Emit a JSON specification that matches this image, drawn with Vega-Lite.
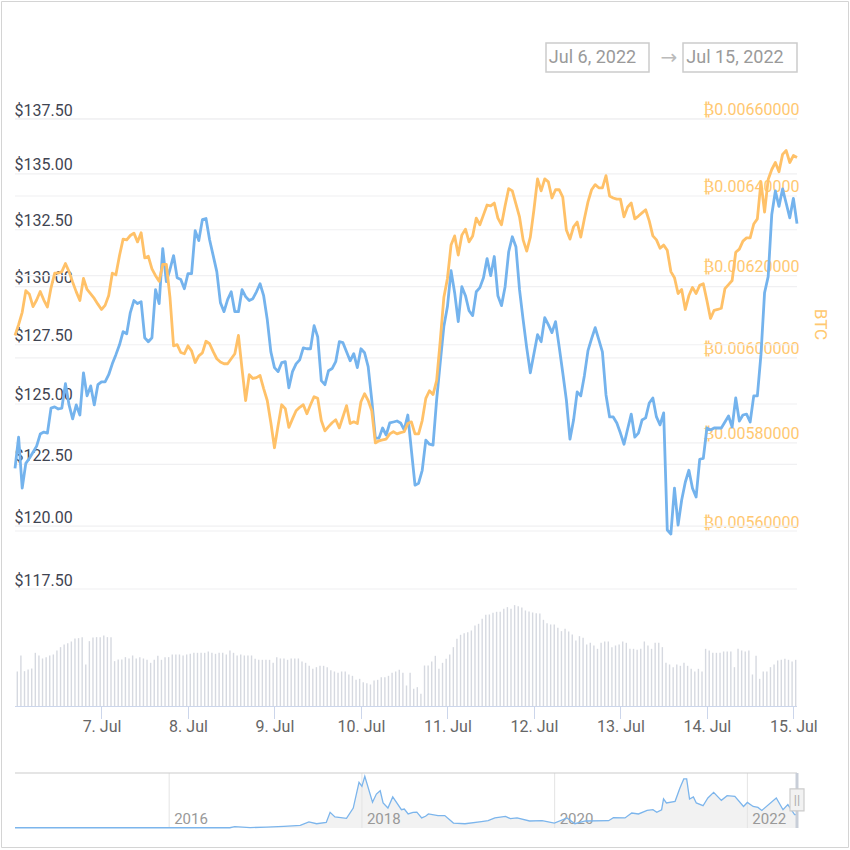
{
"$schema":"https://vega.github.io/schema/vega-lite/v6.json",
"width":847,"height":846,"padding":1,"autosize":"none","background":"white",
"view":{"stroke":"#d4d4d4"},
"config":{"font":"Roboto, DejaVu Sans"},
"datasets":{
"hourly":[
{"t":"2022-07-06T00:00Z","usd":122.34,"btc":0.006054,"vol":210},{"t":"2022-07-06T01:00Z","usd":123.62,"btc":0.00608,"vol":306},{"t":"2022-07-06T02:00Z","usd":121.53,"btc":0.00611,"vol":212},{"t":"2022-07-06T03:00Z","usd":122.54,"btc":0.006163,"vol":222},{"t":"2022-07-06T04:00Z","usd":122.75,"btc":0.006154,"vol":228},{"t":"2022-07-06T05:00Z","usd":123.0,"btc":0.006124,"vol":322},{"t":"2022-07-06T06:00Z","usd":123.25,"btc":0.00614,"vol":306},{"t":"2022-07-06T07:00Z","usd":123.75,"btc":0.006161,"vol":288},{"t":"2022-07-06T08:00Z","usd":123.83,"btc":0.00614,"vol":296},{"t":"2022-07-06T09:00Z","usd":123.79,"btc":0.006123,"vol":306},{"t":"2022-07-06T10:00Z","usd":124.83,"btc":0.00617,"vol":312},{"t":"2022-07-06T11:00Z","usd":124.88,"btc":0.006206,"vol":336},
{"t":"2022-07-06T12:00Z","usd":124.79,"btc":0.006206,"vol":356},{"t":"2022-07-06T13:00Z","usd":124.83,"btc":0.00621,"vol":372},{"t":"2022-07-06T14:00Z","usd":125.85,"btc":0.00623,"vol":380},{"t":"2022-07-06T15:00Z","usd":124.96,"btc":0.00621,"vol":390},{"t":"2022-07-06T16:00Z","usd":124.38,"btc":0.006184,"vol":408},{"t":"2022-07-06T17:00Z","usd":124.96,"btc":0.00616,"vol":410},{"t":"2022-07-06T18:00Z","usd":124.54,"btc":0.006139,"vol":416},{"t":"2022-07-06T19:00Z","usd":126.31,"btc":0.006193,"vol":252},{"t":"2022-07-06T20:00Z","usd":125.34,"btc":0.006166,"vol":392},{"t":"2022-07-06T21:00Z","usd":125.76,"btc":0.006155,"vol":414},{"t":"2022-07-06T22:00Z","usd":124.96,"btc":0.006144,"vol":416},{"t":"2022-07-06T23:00Z","usd":125.81,"btc":0.00613,"vol":416},
{"t":"2022-07-07T00:00Z","usd":125.93,"btc":0.006117,"vol":426},{"t":"2022-07-07T01:00Z","usd":125.93,"btc":0.006127,"vol":416},{"t":"2022-07-07T02:00Z","usd":126.23,"btc":0.006151,"vol":416},{"t":"2022-07-07T03:00Z","usd":126.69,"btc":0.006206,"vol":272},{"t":"2022-07-07T04:00Z","usd":127.08,"btc":0.006202,"vol":282},{"t":"2022-07-07T05:00Z","usd":127.5,"btc":0.00625,"vol":282},{"t":"2022-07-07T06:00Z","usd":128.06,"btc":0.006291,"vol":296},{"t":"2022-07-07T07:00Z","usd":127.97,"btc":0.006289,"vol":288},{"t":"2022-07-07T08:00Z","usd":128.88,"btc":0.0063,"vol":306},{"t":"2022-07-07T09:00Z","usd":129.4,"btc":0.006306,"vol":288},{"t":"2022-07-07T10:00Z","usd":129.27,"btc":0.006284,"vol":296},{"t":"2022-07-07T11:00Z","usd":129.35,"btc":0.006307,"vol":288},
{"t":"2022-07-07T12:00Z","usd":127.8,"btc":0.006244,"vol":280},{"t":"2022-07-07T13:00Z","usd":127.63,"btc":0.006248,"vol":262},{"t":"2022-07-07T14:00Z","usd":127.8,"btc":0.006217,"vol":280},{"t":"2022-07-07T15:00Z","usd":129.87,"btc":0.0062,"vol":304},{"t":"2022-07-07T16:00Z","usd":129.27,"btc":0.006186,"vol":280},{"t":"2022-07-07T17:00Z","usd":131.67,"btc":0.006228,"vol":296},{"t":"2022-07-07T18:00Z","usd":130.22,"btc":0.006228,"vol":296},{"t":"2022-07-07T19:00Z","usd":130.75,"btc":0.006147,"vol":312},{"t":"2022-07-07T20:00Z","usd":131.36,"btc":0.006029,"vol":312},{"t":"2022-07-07T21:00Z","usd":130.39,"btc":0.006032,"vol":312},{"t":"2022-07-07T22:00Z","usd":130.31,"btc":0.006013,"vol":306},{"t":"2022-07-07T23:00Z","usd":129.91,"btc":0.00601,"vol":312},
{"t":"2022-07-08T00:00Z","usd":130.57,"btc":0.006029,"vol":316},{"t":"2022-07-08T01:00Z","usd":130.57,"btc":0.006017,"vol":322},{"t":"2022-07-08T02:00Z","usd":132.46,"btc":0.005989,"vol":322},{"t":"2022-07-08T03:00Z","usd":132.02,"btc":0.006005,"vol":322},{"t":"2022-07-08T04:00Z","usd":132.95,"btc":0.006012,"vol":322},{"t":"2022-07-08T05:00Z","usd":133.0,"btc":0.00604,"vol":330},{"t":"2022-07-08T06:00Z","usd":132.06,"btc":0.006034,"vol":322},{"t":"2022-07-08T07:00Z","usd":131.36,"btc":0.006015,"vol":316},{"t":"2022-07-08T08:00Z","usd":130.66,"btc":0.005998,"vol":322},{"t":"2022-07-08T09:00Z","usd":129.31,"btc":0.00599,"vol":322},{"t":"2022-07-08T10:00Z","usd":128.92,"btc":0.005986,"vol":312},{"t":"2022-07-08T11:00Z","usd":129.44,"btc":0.005986,"vol":336},
{"t":"2022-07-08T12:00Z","usd":129.78,"btc":0.005998,"vol":322},{"t":"2022-07-08T13:00Z","usd":128.92,"btc":0.00601,"vol":306},{"t":"2022-07-08T14:00Z","usd":128.92,"btc":0.006054,"vol":312},{"t":"2022-07-08T15:00Z","usd":129.87,"btc":0.005974,"vol":306},{"t":"2022-07-08T16:00Z","usd":129.57,"btc":0.005899,"vol":306},{"t":"2022-07-08T17:00Z","usd":129.4,"btc":0.00596,"vol":306},{"t":"2022-07-08T18:00Z","usd":129.48,"btc":0.005951,"vol":286},{"t":"2022-07-08T19:00Z","usd":129.78,"btc":0.005953,"vol":280},{"t":"2022-07-08T20:00Z","usd":130.13,"btc":0.005958,"vol":280},{"t":"2022-07-08T21:00Z","usd":129.61,"btc":0.005927,"vol":280},{"t":"2022-07-08T22:00Z","usd":128.58,"btc":0.005899,"vol":280},{"t":"2022-07-08T23:00Z","usd":127.2,"btc":0.005847,"vol":262},
{"t":"2022-07-09T00:00Z","usd":126.53,"btc":0.005789,"vol":296},{"t":"2022-07-09T01:00Z","usd":126.36,"btc":0.00584,"vol":288},{"t":"2022-07-09T02:00Z","usd":126.74,"btc":0.005889,"vol":288},{"t":"2022-07-09T03:00Z","usd":126.78,"btc":0.00588,"vol":280},{"t":"2022-07-09T04:00Z","usd":125.68,"btc":0.005836,"vol":288},{"t":"2022-07-09T05:00Z","usd":126.36,"btc":0.005856,"vol":288},{"t":"2022-07-09T06:00Z","usd":126.69,"btc":0.005875,"vol":288},{"t":"2022-07-09T07:00Z","usd":126.86,"btc":0.005883,"vol":270},{"t":"2022-07-09T08:00Z","usd":127.37,"btc":0.005889,"vol":262},{"t":"2022-07-09T09:00Z","usd":127.33,"btc":0.005868,"vol":244},{"t":"2022-07-09T10:00Z","usd":127.33,"btc":0.005889,"vol":226},{"t":"2022-07-09T11:00Z","usd":128.32,"btc":0.005908,"vol":236},
{"t":"2022-07-09T12:00Z","usd":127.84,"btc":0.005904,"vol":244},{"t":"2022-07-09T13:00Z","usd":125.98,"btc":0.005852,"vol":244},{"t":"2022-07-09T14:00Z","usd":125.81,"btc":0.005828,"vol":236},{"t":"2022-07-09T15:00Z","usd":126.4,"btc":0.005838,"vol":218},{"t":"2022-07-09T16:00Z","usd":126.49,"btc":0.005847,"vol":210},{"t":"2022-07-09T17:00Z","usd":126.78,"btc":0.005854,"vol":202},{"t":"2022-07-09T18:00Z","usd":127.63,"btc":0.005835,"vol":210},{"t":"2022-07-09T19:00Z","usd":127.59,"btc":0.005861,"vol":210},{"t":"2022-07-09T20:00Z","usd":127.2,"btc":0.005887,"vol":192},{"t":"2022-07-09T21:00Z","usd":126.82,"btc":0.005845,"vol":184},{"t":"2022-07-09T22:00Z","usd":127.12,"btc":0.005849,"vol":160},{"t":"2022-07-09T23:00Z","usd":126.53,"btc":0.005845,"vol":166},
{"t":"2022-07-10T00:00Z","usd":127.33,"btc":0.005896,"vol":146},{"t":"2022-07-10T01:00Z","usd":127.16,"btc":0.005915,"vol":140},{"t":"2022-07-10T02:00Z","usd":126.57,"btc":0.005899,"vol":132},{"t":"2022-07-10T03:00Z","usd":125.17,"btc":0.005875,"vol":156},{"t":"2022-07-10T04:00Z","usd":123.58,"btc":0.0058,"vol":160},{"t":"2022-07-10T05:00Z","usd":123.58,"btc":0.005805,"vol":176},{"t":"2022-07-10T06:00Z","usd":124.0,"btc":0.005807,"vol":176},{"t":"2022-07-10T07:00Z","usd":123.71,"btc":0.005809,"vol":184},{"t":"2022-07-10T08:00Z","usd":124.21,"btc":0.005821,"vol":202},{"t":"2022-07-10T09:00Z","usd":124.25,"btc":0.005826,"vol":210},{"t":"2022-07-10T10:00Z","usd":124.29,"btc":0.005821,"vol":220},{"t":"2022-07-10T11:00Z","usd":124.21,"btc":0.005824,"vol":202},
{"t":"2022-07-10T12:00Z","usd":123.92,"btc":0.005826,"vol":126},{"t":"2022-07-10T13:00Z","usd":124.54,"btc":0.005845,"vol":202},{"t":"2022-07-10T14:00Z","usd":123.08,"btc":0.005849,"vol":106},{"t":"2022-07-10T15:00Z","usd":121.65,"btc":0.005821,"vol":116},{"t":"2022-07-10T16:00Z","usd":121.73,"btc":0.005821,"vol":76},{"t":"2022-07-10T17:00Z","usd":122.26,"btc":0.005852,"vol":246},{"t":"2022-07-10T18:00Z","usd":123.5,"btc":0.005904,"vol":246},{"t":"2022-07-10T19:00Z","usd":123.33,"btc":0.005922,"vol":270},{"t":"2022-07-10T20:00Z","usd":123.29,"btc":0.005913,"vol":304},{"t":"2022-07-10T21:00Z","usd":125.17,"btc":0.005946,"vol":226},{"t":"2022-07-10T22:00Z","usd":126.74,"btc":0.006041,"vol":262},{"t":"2022-07-10T23:00Z","usd":128.28,"btc":0.006146,"vol":286},
{"t":"2022-07-11T00:00Z","usd":129.14,"btc":0.006193,"vol":312},{"t":"2022-07-11T01:00Z","usd":130.7,"btc":0.006276,"vol":356},{"t":"2022-07-11T02:00Z","usd":129.74,"btc":0.006299,"vol":406},{"t":"2022-07-11T03:00Z","usd":128.49,"btc":0.006251,"vol":430},{"t":"2022-07-11T04:00Z","usd":130.0,"btc":0.006301,"vol":440},{"t":"2022-07-11T05:00Z","usd":129.61,"btc":0.006316,"vol":446},{"t":"2022-07-11T06:00Z","usd":128.96,"btc":0.006284,"vol":456},{"t":"2022-07-11T07:00Z","usd":128.75,"btc":0.006299,"vol":486},{"t":"2022-07-11T08:00Z","usd":129.78,"btc":0.006344,"vol":496},{"t":"2022-07-11T09:00Z","usd":129.96,"btc":0.006327,"vol":526},{"t":"2022-07-11T10:00Z","usd":130.39,"btc":0.006352,"vol":550},{"t":"2022-07-11T11:00Z","usd":131.23,"btc":0.006377,"vol":552},
{"t":"2022-07-11T12:00Z","usd":130.48,"btc":0.006375,"vol":562},{"t":"2022-07-11T13:00Z","usd":131.32,"btc":0.006382,"vol":568},{"t":"2022-07-11T14:00Z","usd":129.61,"btc":0.006344,"vol":568},{"t":"2022-07-11T15:00Z","usd":129.18,"btc":0.006327,"vol":586},{"t":"2022-07-11T16:00Z","usd":130.0,"btc":0.006375,"vol":596},{"t":"2022-07-11T17:00Z","usd":131.53,"btc":0.006419,"vol":586},{"t":"2022-07-11T18:00Z","usd":132.19,"btc":0.006413,"vol":608},{"t":"2022-07-11T19:00Z","usd":131.75,"btc":0.00638,"vol":602},{"t":"2022-07-11T20:00Z","usd":129.87,"btc":0.006347,"vol":594},{"t":"2022-07-11T21:00Z","usd":128.58,"btc":0.006289,"vol":576},{"t":"2022-07-11T22:00Z","usd":127.37,"btc":0.006261,"vol":570},{"t":"2022-07-11T23:00Z","usd":126.31,"btc":0.006296,"vol":564},
{"t":"2022-07-12T00:00Z","usd":127.12,"btc":0.006365,"vol":560},{"t":"2022-07-12T01:00Z","usd":127.93,"btc":0.006444,"vol":558},{"t":"2022-07-12T02:00Z","usd":127.63,"btc":0.006413,"vol":520},{"t":"2022-07-12T03:00Z","usd":128.66,"btc":0.006444,"vol":500},{"t":"2022-07-12T04:00Z","usd":128.36,"btc":0.006436,"vol":492},{"t":"2022-07-12T05:00Z","usd":128.02,"btc":0.006395,"vol":492},{"t":"2022-07-12T06:00Z","usd":128.49,"btc":0.006416,"vol":472},{"t":"2022-07-12T07:00Z","usd":127.42,"btc":0.006416,"vol":452},{"t":"2022-07-12T08:00Z","usd":126.31,"btc":0.006397,"vol":466},{"t":"2022-07-12T09:00Z","usd":125.17,"btc":0.006314,"vol":450},{"t":"2022-07-12T10:00Z","usd":123.54,"btc":0.006291,"vol":432},{"t":"2022-07-12T11:00Z","usd":124.33,"btc":0.006322,"vol":396},
{"t":"2022-07-12T12:00Z","usd":125.51,"btc":0.006334,"vol":422},{"t":"2022-07-12T13:00Z","usd":125.34,"btc":0.006296,"vol":412},{"t":"2022-07-12T14:00Z","usd":126.19,"btc":0.006342,"vol":372},{"t":"2022-07-12T15:00Z","usd":127.25,"btc":0.006385,"vol":382},{"t":"2022-07-12T16:00Z","usd":127.76,"btc":0.006416,"vol":366},{"t":"2022-07-12T17:00Z","usd":128.23,"btc":0.006429,"vol":346},{"t":"2022-07-12T18:00Z","usd":127.72,"btc":0.006421,"vol":382},{"t":"2022-07-12T19:00Z","usd":127.2,"btc":0.006421,"vol":390},{"t":"2022-07-12T20:00Z","usd":125.38,"btc":0.006452,"vol":390},{"t":"2022-07-12T21:00Z","usd":124.46,"btc":0.0064,"vol":356},{"t":"2022-07-12T22:00Z","usd":124.46,"btc":0.006395,"vol":366},{"t":"2022-07-12T23:00Z","usd":124.21,"btc":0.006392,"vol":372},
{"t":"2022-07-13T00:00Z","usd":123.79,"btc":0.006392,"vol":390},{"t":"2022-07-13T01:00Z","usd":123.33,"btc":0.006347,"vol":382},{"t":"2022-07-13T02:00Z","usd":123.96,"btc":0.006372,"vol":346},{"t":"2022-07-13T03:00Z","usd":124.58,"btc":0.006382,"vol":346},{"t":"2022-07-13T04:00Z","usd":123.62,"btc":0.006342,"vol":340},{"t":"2022-07-13T05:00Z","usd":123.79,"btc":0.006349,"vol":346},{"t":"2022-07-13T06:00Z","usd":124.33,"btc":0.006357,"vol":390},{"t":"2022-07-13T07:00Z","usd":124.42,"btc":0.006365,"vol":366},{"t":"2022-07-13T08:00Z","usd":125.04,"btc":0.006337,"vol":346},{"t":"2022-07-13T09:00Z","usd":125.25,"btc":0.006299,"vol":382},{"t":"2022-07-13T10:00Z","usd":124.46,"btc":0.006289,"vol":382},{"t":"2022-07-13T11:00Z","usd":124.13,"btc":0.006268,"vol":356},
{"t":"2022-07-13T12:00Z","usd":124.63,"btc":0.006276,"vol":262},{"t":"2022-07-13T13:00Z","usd":119.84,"btc":0.006263,"vol":252},{"t":"2022-07-13T14:00Z","usd":119.68,"btc":0.00621,"vol":236},{"t":"2022-07-13T15:00Z","usd":121.53,"btc":0.006195,"vol":252},{"t":"2022-07-13T16:00Z","usd":120.04,"btc":0.006156,"vol":244},{"t":"2022-07-13T17:00Z","usd":121.05,"btc":0.006166,"vol":262},{"t":"2022-07-13T18:00Z","usd":121.77,"btc":0.006117,"vol":244},{"t":"2022-07-13T19:00Z","usd":122.26,"btc":0.006151,"vol":226},{"t":"2022-07-13T20:00Z","usd":121.53,"btc":0.006171,"vol":210},{"t":"2022-07-13T21:00Z","usd":121.17,"btc":0.006156,"vol":226},{"t":"2022-07-13T22:00Z","usd":122.71,"btc":0.006176,"vol":210},{"t":"2022-07-13T23:00Z","usd":122.75,"btc":0.00618,"vol":346},
{"t":"2022-07-14T00:00Z","usd":124.0,"btc":0.006139,"vol":336},{"t":"2022-07-14T01:00Z","usd":123.92,"btc":0.006095,"vol":322},{"t":"2022-07-14T02:00Z","usd":124.0,"btc":0.006115,"vol":322},{"t":"2022-07-14T03:00Z","usd":124.0,"btc":0.006117,"vol":322},{"t":"2022-07-14T04:00Z","usd":124.0,"btc":0.00612,"vol":330},{"t":"2022-07-14T05:00Z","usd":124.25,"btc":0.006168,"vol":330},{"t":"2022-07-14T06:00Z","usd":124.5,"btc":0.006178,"vol":330},{"t":"2022-07-14T07:00Z","usd":124.04,"btc":0.006188,"vol":236},{"t":"2022-07-14T08:00Z","usd":125.25,"btc":0.006258,"vol":346},{"t":"2022-07-14T09:00Z","usd":124.29,"btc":0.006266,"vol":336},{"t":"2022-07-14T10:00Z","usd":124.54,"btc":0.006286,"vol":330},{"t":"2022-07-14T11:00Z","usd":124.58,"btc":0.006294,"vol":336},
{"t":"2022-07-14T12:00Z","usd":124.25,"btc":0.006294,"vol":192},{"t":"2022-07-14T13:00Z","usd":125.34,"btc":0.006329,"vol":304},{"t":"2022-07-14T14:00Z","usd":125.34,"btc":0.006342,"vol":166},{"t":"2022-07-14T15:00Z","usd":127.08,"btc":0.006436,"vol":210},{"t":"2022-07-14T16:00Z","usd":129.74,"btc":0.006359,"vol":210},{"t":"2022-07-14T17:00Z","usd":130.44,"btc":0.006442,"vol":236},{"t":"2022-07-14T18:00Z","usd":133.18,"btc":0.006468,"vol":252},{"t":"2022-07-14T19:00Z","usd":134.23,"btc":0.006486,"vol":276},{"t":"2022-07-14T20:00Z","usd":133.54,"btc":0.006462,"vol":280},{"t":"2022-07-14T21:00Z","usd":134.32,"btc":0.006507,"vol":286},{"t":"2022-07-14T22:00Z","usd":133.68,"btc":0.006517,"vol":280},{"t":"2022-07-14T23:00Z","usd":133.03,"btc":0.006486,"vol":270},
{"t":"2022-07-15T00:00Z","usd":133.9,"btc":0.006504,"vol":280},{"t":"2022-07-15T01:00Z","usd":132.77,"btc":0.006499}
],
"nav":[
{"year":2014.4,"price":2},{"year":2015.98,"price":2},{"year":2016.63,"price":2},{"year":2016.68,"price":10},{"year":2016.84,"price":2.4},{"year":2017.01,"price":7},{"year":2017.19,"price":12},{"year":2017.36,"price":19},{"year":2017.45,"price":44},{"year":2017.53,"price":31},{"year":2017.63,"price":41},{"year":2017.67,"price":114},{"year":2017.72,"price":80},{"year":2017.84,"price":70},{"year":2017.91,"price":145},{"year":2017.97,"price":332},{"year":2018.0,"price":303},{"year":2018.03,"price":376},{"year":2018.11,"price":187},{"year":2018.15,"price":247},{"year":2018.19,"price":271},{"year":2018.22,"price":182},{"year":2018.27,"price":145},{"year":2018.32,"price":226},{"year":2018.41,"price":133},{"year":2018.44,"price":138},{"year":2018.48,"price":102},{"year":2018.53,"price":114},{"year":2018.57,"price":116},{"year":2018.62,"price":73},{"year":2018.66,"price":85},{"year":2018.69,"price":102},{"year":2018.79,"price":90},{"year":2018.86,"price":90},{"year":2018.95,"price":36},{"year":2019.07,"price":31},{"year":2019.24,"price":46},{"year":2019.31,"price":53},{"year":2019.38,"price":73},{"year":2019.49,"price":85},{"year":2019.54,"price":68},{"year":2019.61,"price":73},{"year":2019.74,"price":51},{"year":2019.87,"price":53},{"year":2019.997,"price":36},{"year":2020.13,"price":73},{"year":2020.21,"price":31},{"year":2020.32,"price":51},{"year":2020.56,"price":53},{"year":2020.61,"price":75},{"year":2020.73,"price":73},{"year":2020.8,"price":109},{"year":2020.87,"price":102},{"year":2020.96,"price":128},{"year":2021.02,"price":133},{"year":2021.06,"price":114},{"year":2021.11,"price":133},{"year":2021.13,"price":211},{"year":2021.16,"price":182},{"year":2021.25,"price":194},{"year":2021.3,"price":291},{"year":2021.34,"price":357},{"year":2021.37,"price":357},{"year":2021.4,"price":211},{"year":2021.44,"price":226},{"year":2021.47,"price":182},{"year":2021.54,"price":162},{"year":2021.59,"price":218},{"year":2021.65,"price":259},{"year":2021.73,"price":201},{"year":2021.79,"price":235},{"year":2021.87,"price":230},{"year":2021.96,"price":157},{"year":2022.0,"price":186},{"year":2022.06,"price":157},{"year":2022.11,"price":150},{"year":2022.15,"price":128},{"year":2022.3,"price":218},{"year":2022.37,"price":133},{"year":2022.42,"price":170},{"year":2022.49,"price":97},{"year":2022.515,"price":97}
],
"years":[{"year":2016,"label":"2016"},{"year":2018,"label":"2018"},{"year":2020,"label":"2020"},{"year":2022,"label":"2022"}],
"usdTicks":[{"usd":117.5},{"usd":120},{"usd":122.5},{"usd":125},{"usd":127.5},{"usd":130},{"usd":132.5},{"usd":135},{"usd":137.5}],
"btcTicks":[{"btc":0.0056},{"btc":0.0058},{"btc":0.006},{"btc":0.0062},{"btc":0.0064},{"btc":0.0066}],
"range":[{"label":"Jul 6, 2022","group":"range"},{"label":"→","group":"range"},{"label":"Jul 15, 2022","group":"range"}]
},
"resolve":{"scale":{"x":"independent","y":"independent"},"axis":{"x":"independent","y":"independent"}},
"layer":[
{"data":{"name":"usdTicks"},"mark":{"type":"rule","color":"#f0f0f2","strokeWidth":1.2},
 "encoding":{"x":{"datum":1657065600000,"type":"temporal","scale":{"type":"utc","domain":[1657065600000,1657846800000],"range":[14,796]},"axis":null},"x2":{"datum":1657846800000},
  "y":{"field":"usd","type":"quantitative","scale":{"type":"log","domain":[117.5,137.5],"range":[588,118],"nice":false},"axis":null}}},
{"data":{"name":"btcTicks"},"mark":{"type":"rule","color":"#f0f0f2","strokeWidth":1.2},
 "encoding":{"x":{"datum":1657065600000,"type":"temporal","scale":{"type":"utc","domain":[1657065600000,1657846800000],"range":[14,796]},"axis":null},"x2":{"datum":1657846800000},
  "y":{"field":"btc","type":"quantitative","scale":{"type":"log","domain":[0.0056,0.0066],"range":[530,117.8],"nice":false},"axis":null}}},
{"data":{"name":"hourly"},"transform":[{"filter":"isValid(datum.vol)"}],"mark":{"type":"bar","size":1.4,"color":"#d6d9e0"},
 "encoding":{"x":{"field":"t","type":"temporal","scale":{"type":"utc","domain":[1657065600000,1657846800000],"range":[16.3,798.3],"padding":0},"axis":null},
  "y":{"field":"vol","type":"quantitative","stack":null,"scale":{"domain":[0,640],"range":[705.5,598.8],"nice":false},"axis":null}}},
{"data":{"values":[{"base":0}]},"mark":{"type":"rule","color":"#ccd6eb","strokeWidth":1},
 "encoding":{"x":{"datum":1657065600000,"type":"temporal","scale":{"type":"utc","domain":[1657065600000,1657846800000],"range":[14,796]},"axis":null},"x2":{"datum":1657846800000},
  "y":{"field":"base","type":"quantitative","scale":{"domain":[0,640],"range":[705.5,598.8],"nice":false},"axis":null}}},
{"data":{"name":"hourly"},"mark":{"type":"line","color":"#74b3ed","strokeWidth":2.8,"strokeJoin":"round"},
 "encoding":{"x":{"field":"t","type":"temporal","scale":{"type":"utc","domain":[1657065600000,1657846800000],"range":[14,796]},
   "axis":{"orient":"bottom","offset":-140.5,"title":null,"grid":false,"domain":false,"ticks":true,"tickSize":12,"tickColor":"#ccd6eb","labelPadding":0,"labelFont":"Roboto","labelFontSize":16,"labelColor":"#666666","labelOverlap":false,"labelFlush":false,"values":[1657152000000,1657238400000,1657324800000,1657411200000,1657497600000,1657584000000,1657670400000,1657756800000,1657843200000],"labelExpr":"utcFormat(datum.value,'%-d. %b')"}},
  "y":{"field":"usd","type":"quantitative","scale":{"type":"log","domain":[117.5,137.5],"range":[588,118],"nice":false},
   "axis":{"orient":"left","title":null,"grid":false,"domain":false,"ticks":false,"labelAlign":"left","labelBaseline":"alphabetic","labelPadding":-13,"labelOffset":-4,"labelFont":"Roboto","labelFontSize":16,"labelColor":"#3f4451","labelOverlap":false,"labelFlush":false,"values":[117.5,120,122.5,125,127.5,130,132.5,135,137.5],"labelExpr":"'$'+format(datum.value,'.2f')"}}}},
{"data":{"name":"hourly"},"mark":{"type":"line","color":"#ffc168","strokeWidth":2.8,"strokeJoin":"round"},
 "encoding":{"x":{"field":"t","type":"temporal","scale":{"type":"utc","domain":[1657065600000,1657846800000],"range":[14,796]},"axis":null},
  "y":{"field":"btc","type":"quantitative","scale":{"type":"log","domain":[0.0056,0.0066],"range":[530,117.8],"nice":false},
   "axis":{"orient":"right","title":"BTC","titleX":-29,"titleY":323,"titleAngle":90,"titleAlign":"center","titleBaseline":"middle","titleFont":"Roboto","titleFontSize":17,"titleFontWeight":"normal","titleColor":"#ffc870","grid":false,"domain":false,"ticks":false,"labelAlign":"right","labelBaseline":"alphabetic","labelPadding":-49,"labelOffset":-4,"labelFont":"Roboto, DejaVu Sans","labelFontSize":16,"labelColor":"#ffc870","labelOverlap":false,"labelFlush":false,"values":[0.0056,0.0058,0.006,0.0062,0.0064,0.0066],"labelExpr":"'₿'+format(datum.value,'.8f')"}}}},
{"data":{"name":"nav"},"mark":{"type":"area","color":"#f2f2f2"},
 "encoding":{"x":{"field":"year","type":"quantitative","scale":{"domain":[2014.4,2022.515],"range":[14,796],"nice":false,"zero":false},"axis":null},
  "y":{"field":"price","type":"quantitative","scale":{"domain":[0,400],"range":[827,772],"nice":false},"axis":null}}},
{"data":{"name":"years"},"mark":{"type":"rule","color":"#e4e4e4","strokeWidth":1},
 "encoding":{"x":{"field":"year","type":"quantitative","scale":{"domain":[2014.4,2022.515],"range":[14,796],"nice":false,"zero":false},"axis":null},
  "y":{"datum":0,"scale":{"domain":[0,400],"range":[827,772],"nice":false},"axis":null},"y2":{"datum":400}}},
{"data":{"name":"years"},"mark":{"type":"text","align":"left","baseline":"alphabetic","dx":5,"dy":-4,"font":"Roboto","fontSize":15,"color":"#999999"},
 "encoding":{"x":{"field":"year","type":"quantitative","scale":{"domain":[2014.4,2022.515],"range":[14,796],"nice":false,"zero":false},"axis":null},
  "y":{"datum":0,"scale":{"domain":[0,400],"range":[827,772],"nice":false},"axis":null},"text":{"field":"label"}}},
{"data":{"name":"nav"},"mark":{"type":"line","color":"#7cb5ec","strokeWidth":1.3},
 "encoding":{"x":{"field":"year","type":"quantitative","scale":{"domain":[2014.4,2022.515],"range":[14,796],"nice":false,"zero":false},"axis":null},
  "y":{"field":"price","type":"quantitative","scale":{"domain":[0,400],"range":[827,772],"nice":false},"axis":null}}},
{"data":{"values":[{"top":400}]},"mark":{"type":"rule","color":"#cccccc","strokeWidth":1.2},
 "encoding":{"x":{"datum":2014.4,"scale":{"domain":[2014.4,2022.515],"range":[14,796],"nice":false,"zero":false},"axis":null},"x2":{"datum":2022.515},
  "y":{"field":"top","type":"quantitative","scale":{"domain":[0,400],"range":[827,772],"nice":false},"axis":null}}},
{"data":{"values":[{"year":2022.515}]},"mark":{"type":"rule","color":"#c8ced8","strokeWidth":3},
 "encoding":{"x":{"field":"year","type":"quantitative","scale":{"domain":[2014.4,2022.515],"range":[14,796],"nice":false,"zero":false},"axis":null},
  "y":{"datum":0,"scale":{"domain":[0,400],"range":[827,772],"nice":false},"axis":null},"y2":{"datum":400}}},
{"data":{"values":[{"year":2022.515,"price":204}]},"mark":{"type":"point","filled":true,"fill":"#f2f2f2","stroke":"#cccccc","strokeWidth":1.2,"opacity":1,"size":196,"shape":"M-1,-1.57H1V1.57H-1Z"},
 "encoding":{"x":{"field":"year","type":"quantitative","scale":{"domain":[2014.4,2022.515],"range":[14,796],"nice":false,"zero":false},"axis":null},
  "y":{"field":"price","type":"quantitative","scale":{"domain":[0,400],"range":[827,772],"nice":false},"axis":null}}},
{"data":{"values":[{"year":2022.515,"price":204,"grip":"||"}]},"mark":{"type":"text","font":"Roboto","fontSize":13,"color":"#aaaaaa","align":"center","baseline":"middle"},
 "encoding":{"x":{"field":"year","type":"quantitative","scale":{"domain":[2014.4,2022.515],"range":[14,796],"nice":false,"zero":false},"axis":null},
  "y":{"field":"price","type":"quantitative","scale":{"domain":[0,400],"range":[827,772],"nice":false},"axis":null},"text":{"field":"grip"}}},
{"data":{"name":"range"},"transform":[{"filter":"datum.label=='Jul 6, 2022'"}],"mark":{"type":"rect","width":103,"height":29,"fill":"white","stroke":"#cccccc","strokeWidth":1.5},
 "encoding":{"x":{"field":"label","type":"nominal","scale":{"type":"point","domain":["Jul 6, 2022","→","Jul 15, 2022"],"range":[596.5,739],"padding":0},"axis":null},
  "y":{"field":"group","type":"nominal","scale":{"type":"point","domain":["range"],"range":[56.5,56.5]},"axis":null}}},
{"data":{"name":"range"},"transform":[{"filter":"datum.label=='Jul 15, 2022'"}],"mark":{"type":"rect","width":114,"height":29,"fill":"white","stroke":"#cccccc","strokeWidth":1.5},
 "encoding":{"x":{"field":"label","type":"nominal","scale":{"type":"point","domain":["Jul 6, 2022","→","Jul 15, 2022"],"range":[596.5,739],"padding":0},"axis":null},
  "y":{"field":"group","type":"nominal","scale":{"type":"point","domain":["range"],"range":[56.5,56.5]},"axis":null}}},
{"data":{"name":"range"},"transform":[{"filter":"datum.label!='→'"}],"mark":{"type":"text","font":"Roboto","fontSize":18,"color":"#9a9a9a","dx":-5,"align":"center","baseline":"middle"},
 "encoding":{"x":{"field":"label","type":"nominal","scale":{"type":"point","domain":["Jul 6, 2022","→","Jul 15, 2022"],"range":[596.5,739],"padding":0},"axis":null},
  "y":{"field":"group","type":"nominal","scale":{"type":"point","domain":["range"],"range":[56.5,56.5]},"axis":null},"text":{"field":"label"}}},
{"data":{"name":"range"},"transform":[{"filter":"datum.label=='→'"}],"mark":{"type":"text","font":"DejaVu Sans","fontSize":20,"color":"#bbbbbb","align":"center","baseline":"middle"},
 "encoding":{"x":{"field":"label","type":"nominal","scale":{"type":"point","domain":["Jul 6, 2022","→","Jul 15, 2022"],"range":[596.5,739],"padding":0},"axis":null},
  "y":{"field":"group","type":"nominal","scale":{"type":"point","domain":["range"],"range":[56.5,56.5]},"axis":null},"text":{"field":"label"}}}
]
}
